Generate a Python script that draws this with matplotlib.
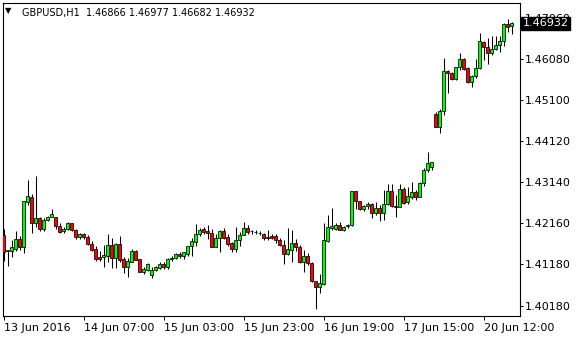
import numpy as np
import matplotlib
matplotlib.use("Agg")
import matplotlib.pyplot as plt
import matplotlib.transforms as mtransforms

# GBPUSD H1 candles
opens = [1.4188, 1.4150, 1.4150, 1.4155, 1.4177, 1.4160, 1.4267, 1.4279, 1.4217, 1.4228,
         1.4203, 1.4224, 1.4231, 1.4230, 1.4209, 1.4197, 1.4203, 1.4216, 1.4200, 1.4182,
         1.4190, 1.4182, 1.4166, 1.4154, 1.4134, 1.4134, 1.4138, 1.4164, 1.4132, 1.4165,
         1.4130, 1.4112, 1.4124, 1.4149, 1.4130, 1.4100, 1.4105, 1.4092, 1.4103, 1.4108,
         1.4118, 1.4112, 1.4130, 1.4132, 1.4143, 1.4138, 1.4143, 1.4161, 1.4172, 1.4189,
         1.4202, 1.4196, 1.4192, 1.4159, 1.4180, 1.4196, 1.4183, 1.4168, 1.4153, 1.4175,
         1.4188, 1.4204, 1.4196, 1.4195, 1.4193, 1.4191, 1.4183, 1.4186, 1.4186, 1.4176,
         1.4164, 1.4142, 1.4152, 1.4169, 1.4159, 1.4124, 1.4138, 1.4120, 1.4077, 1.4063,
         1.4071, 1.4174, 1.4204, 1.4203, 1.4211, 1.4199, 1.4208, 1.4211, 1.4292, 1.4268,
         1.4249, 1.4256, 1.4262, 1.4241, 1.4252, 1.4240, 1.4262, 1.4292, 1.4257, 1.4255,
         1.4298, 1.4266, 1.4279, 1.4290, 1.4279, 1.4312, 1.4342, 1.4351, 1.4477, 1.4446,
         1.4483, 1.4579, 1.4574, 1.4561, 1.4588, 1.4609, 1.4587, 1.4552, 1.4567, 1.4586,
         1.4649, 1.4636, 1.4622, 1.4632, 1.4642, 1.4650, 1.4692, 1.46866]
highs = [1.4201, 1.4152, 1.4176, 1.4196, 1.4185, 1.4270, 1.4319, 1.4286, 1.4329, 1.4231,
         1.4228, 1.4233, 1.4249, 1.4231, 1.4217, 1.4206, 1.4219, 1.4217, 1.4201, 1.4193,
         1.4193, 1.4187, 1.4173, 1.4161, 1.4149, 1.4164, 1.4189, 1.4180, 1.4168, 1.4186,
         1.4136, 1.4132, 1.4154, 1.4152, 1.4130, 1.4110, 1.4121, 1.4110, 1.4114, 1.4122,
         1.4122, 1.4133, 1.4137, 1.4145, 1.4146, 1.4148, 1.4162, 1.4180, 1.4213, 1.4204,
         1.4207, 1.4212, 1.4202, 1.4189, 1.4200, 1.4204, 1.4191, 1.4172, 1.4207, 1.4194,
         1.4219, 1.4212, 1.4200, 1.4199, 1.4197, 1.4192, 1.4199, 1.4191, 1.4191, 1.4180,
         1.4175, 1.4205, 1.4200, 1.4178, 1.4164, 1.4152, 1.4145, 1.4123, 1.4078, 1.4095,
         1.4217, 1.4235, 1.4252, 1.4216, 1.4219, 1.4209, 1.4214, 1.4292, 1.4292, 1.4270,
         1.4259, 1.4266, 1.4265, 1.4266, 1.4260, 1.4294, 1.4310, 1.4310, 1.4284, 1.4309,
         1.4302, 1.4302, 1.4315, 1.4294, 1.4315, 1.4347, 1.4386, 1.4362, 1.4482, 1.4488,
         1.4610, 1.4582, 1.4577, 1.4590, 1.4623, 1.4610, 1.4588, 1.4569, 1.4607, 1.4671,
         1.4650, 1.4658, 1.4663, 1.4662, 1.4663, 1.4694, 1.4704, 1.46977]
lows = [1.4126, 1.4114, 1.4134, 1.4149, 1.4152, 1.4145, 1.4259, 1.4193, 1.4206, 1.4197,
        1.4197, 1.4222, 1.4230, 1.4201, 1.4192, 1.4193, 1.4200, 1.4197, 1.4179, 1.4179,
        1.4179, 1.4163, 1.4149, 1.4126, 1.4126, 1.4110, 1.4124, 1.4108, 1.4108, 1.4124,
        1.4096, 1.4088, 1.4123, 1.4128, 1.4100, 1.4094, 1.4102, 1.4084, 1.4102, 1.4106,
        1.4106, 1.4106, 1.4126, 1.4130, 1.4132, 1.4130, 1.4138, 1.4138, 1.4162, 1.4185,
        1.4189, 1.4178, 1.4158, 1.4158, 1.4148, 1.4178, 1.4162, 1.4146, 1.4146, 1.4161,
        1.4187, 1.4191, 1.4191, 1.4191, 1.4188, 1.4176, 1.4175, 1.4178, 1.4169, 1.4161,
        1.4119, 1.4139, 1.4124, 1.4149, 1.4121, 1.4099, 1.4115, 1.4075, 1.4012, 1.4050,
        1.4067, 1.4171, 1.4199, 1.4200, 1.4199, 1.4197, 1.4204, 1.4208, 1.4250, 1.4247,
        1.4246, 1.4250, 1.4228, 1.4235, 1.4220, 1.4223, 1.4259, 1.4254, 1.4230, 1.4254,
        1.4262, 1.4262, 1.4273, 1.4271, 1.4278, 1.4305, 1.4338, 1.4342, 1.4445, 1.4432,
        1.4475, 1.4528, 1.4558, 1.4558, 1.4582, 1.4581, 1.4550, 1.4542, 1.4563, 1.4584,
        1.4606, 1.4596, 1.4617, 1.4629, 1.4624, 1.4639, 1.4673, 1.46682]
closes = [1.4148, 1.4151, 1.4158, 1.4177, 1.4160, 1.4269, 1.4281, 1.4217, 1.4228, 1.4201,
          1.4224, 1.4231, 1.4238, 1.4208, 1.4195, 1.4203, 1.4217, 1.4200, 1.4182, 1.4190,
          1.4182, 1.4166, 1.4152, 1.4131, 1.4131, 1.4141, 1.4164, 1.4132, 1.4165, 1.4129,
          1.4112, 1.4126, 1.4149, 1.4129, 1.4100, 1.4106, 1.4118, 1.4105, 1.4112, 1.4118,
          1.4111, 1.4130, 1.4133, 1.4142, 1.4137, 1.4146, 1.4161, 1.4173, 1.4189, 1.4199,
          1.4194, 1.4192, 1.4159, 1.4180, 1.4196, 1.4181, 1.4167, 1.4154, 1.4175, 1.4188,
          1.4205, 1.4194, 1.4196, 1.4195, 1.4193, 1.4180, 1.4180, 1.4181, 1.4175, 1.4164,
          1.4142, 1.4153, 1.4169, 1.4158, 1.4124, 1.4137, 1.4120, 1.4077, 1.4063, 1.4072,
          1.4176, 1.4207, 1.4209, 1.4211, 1.4200, 1.4207, 1.4211, 1.4292, 1.4268, 1.4249,
          1.4257, 1.4262, 1.4241, 1.4252, 1.4240, 1.4262, 1.4292, 1.4256, 1.4254, 1.4297,
          1.4265, 1.4280, 1.4290, 1.4279, 1.4313, 1.4343, 1.4360, 1.4362, 1.4446, 1.4485,
          1.4579, 1.4574, 1.4561, 1.4588, 1.4607, 1.4585, 1.4552, 1.4568, 1.4587, 1.4650,
          1.4636, 1.4622, 1.4633, 1.4642, 1.4650, 1.4692, 1.4684, 1.46932]

date_ticks = [0, 20, 40, 60, 80, 100, 120]
date_labels = ['13 Jun 2016', '14 Jun 07:00', '15 Jun 03:00', '15 Jun 23:00',
               '16 Jun 19:00', '17 Jun 15:00', '20 Jun 12:00']
price_ticks = [1.40180, 1.41180, 1.42160, 1.43140, 1.44120, 1.45100, 1.46080, 1.47060]

o = np.array(opens)
h = np.array(highs)
l = np.array(lows)
c = np.array(closes)
x = np.arange(len(o))
up = c >= o
cols = np.where(up, '#00FF00', '#FF0000')

fig = plt.figure(figsize=(5.8, 3.4), dpi=100)
W, H = 580, 340
ax = fig.add_axes([3 / W, 24 / H, 517 / W, 313 / H])

ax.vlines(x, l, h, color='black', linewidth=0.75, zorder=2)
ax.bar(x, np.abs(c - o), bottom=np.minimum(o, c), width=0.62, color=cols,
       edgecolor='black', linewidth=0.55, zorder=3)

ax.set_xlim(-0.175, 129.1)
ax.set_ylim(1.39941, 1.47419)

for s in ax.spines.values():
    s.set_linewidth(0.8)

ax.set_xticks(date_ticks)
ax.set_xticklabels(date_labels, ha='left')
ax.tick_params(axis='x', direction='out', length=3, width=0.7, pad=2, labelsize=8)
ax.yaxis.tick_right()
ax.set_yticks(price_ticks)
ax.set_yticklabels(['%.5f' % p for p in price_ticks])
ax.tick_params(axis='y', direction='out', length=2.5, width=0.7, pad=1.2, labelsize=8)

# last price marker on the right axis
trans = mtransforms.blended_transform_factory(ax.transAxes, ax.transData)
ax.text(1.0 + 2.5 / 517, closes[-1], '%.5f' % closes[-1], transform=trans,
        color='white', fontsize=8, ha='left', va='center', clip_on=False, zorder=10,
        bbox=dict(boxstyle='square,pad=0.12', fc='black', ec='black'))

fig.text(5 / W, 1 - 11 / H, '\u25bc', fontsize=6, va='center', ha='left')
fig.text(22 / W, 1 - 13 / H, 'GBPUSD,H1  1.46866 1.46977 1.46682 1.46932',
         fontsize=7, va='center', ha='left')

fig.savefig('out.png', dpi=100)
